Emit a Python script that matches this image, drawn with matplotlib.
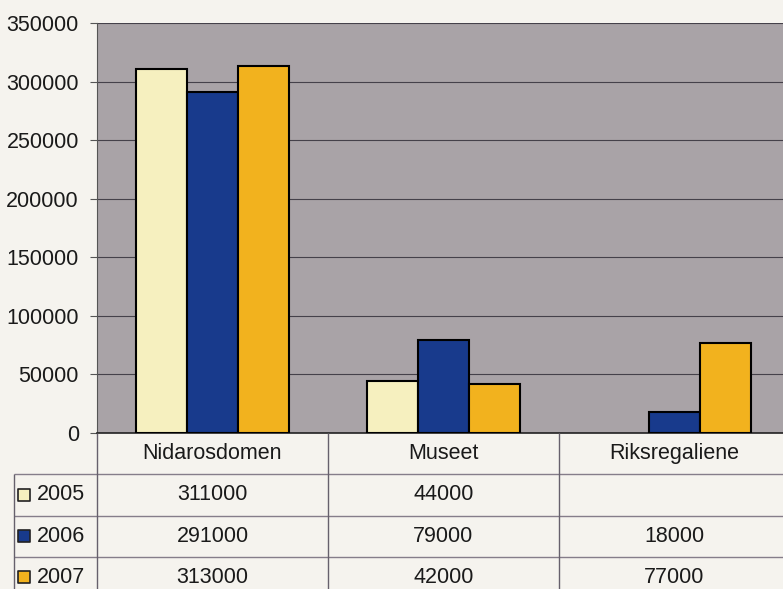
import numpy as np
import matplotlib
matplotlib.use("Agg")
import matplotlib.pyplot as plt

categories = ["Nidarosdomen", "Museet", "Riksregaliene"]
years = ["2005", "2006", "2007"]
v2005 = [311000, 44000, np.nan]
v2006 = [291000, 79000, 18000]
v2007 = [313000, 42000, 77000]
colors = ["#f6f0bf", "#183a8c", "#f2b21e"]

plt.rcParams["font.family"] = ["Liberation Sans", "DejaVu Sans"]
plt.rcParams["font.size"] = 15.5

W, H = 783, 589
fig = plt.figure(figsize=(W / 100, H / 100), dpi=100, facecolor="#f5f3ee")

# plot area (columns are 231 px wide, right edge runs past the picture)
col_px = 231
ax = fig.add_axes([97 / W, (H - 433) / H, 3 * col_px / W, (433 - 23) / H])
ax.set_facecolor("#a9a3a7")
x = np.arange(len(categories))
width = 0.22
series = [v2005, v2006, v2007]
for i, (vals, c) in enumerate(zip(series, colors)):
    ax.bar(x + (i - 1) * width, vals, width, color=c, edgecolor="black",
           linewidth=1.5, zorder=3)

ax.set_xlim(-0.5, 2.5)
ax.set_ylim(0, 350000)
ax.set_yticks(np.arange(0, 350001, 50000))
ax.set_xticks([])
ax.yaxis.grid(True, color="#45414a", linewidth=0.8, zorder=1)
ax.tick_params(axis="y", length=5, width=0.8, color="#555555", pad=8,
               labelcolor="#1a1a1a")
for s in ["top", "right"]:
    ax.spines[s].set_visible(False)
ax.spines["left"].set_color("#555555")
ax.spines["bottom"].set_color("#222222")
ax.spines["bottom"].set_linewidth(1.2)

# data table below the plot
def tx(px):
    return -0.5 + (px - 97) / col_px

tax = fig.add_axes([14 / W, (H - 598) / H, (97 + 3 * col_px - 14) / W, 165 / H])
tax.set_xlim(tx(14), 2.5)
tax.set_ylim(4, 0)
tax.axis("off")

line_c = "#857d8a"
tax.hlines([1, 2, 3], tx(14), 2.5, color=line_c, linewidth=1, clip_on=False)
tax.vlines([-0.5, 0.5, 1.5], 0, 4, color="#66606c", linewidth=1, clip_on=False)
tax.vlines([tx(14)], 1, 4, color="#66606c", linewidth=1, clip_on=False)

for j, cat in enumerate(categories):
    tax.text(j, 0.5, cat, ha="center", va="center", color="#1a1a1a")

for r, (yr, vals, c) in enumerate(zip(years, series, colors)):
    yrow = r + 1.5
    tax.scatter([tx(24)], [yrow], marker="s", s=80, color=c,
                edgecolor="#222222", linewidth=1.2, clip_on=False)
    tax.text(tx(37), yrow, yr, ha="left", va="center", color="#1a1a1a")
    for j, v in enumerate(vals):
        if not np.isnan(v):
            tax.text(j, yrow, f"{int(v)}", ha="center", va="center",
                     color="#1a1a1a")

fig.savefig("out.png", dpi=100, facecolor=fig.get_facecolor())
